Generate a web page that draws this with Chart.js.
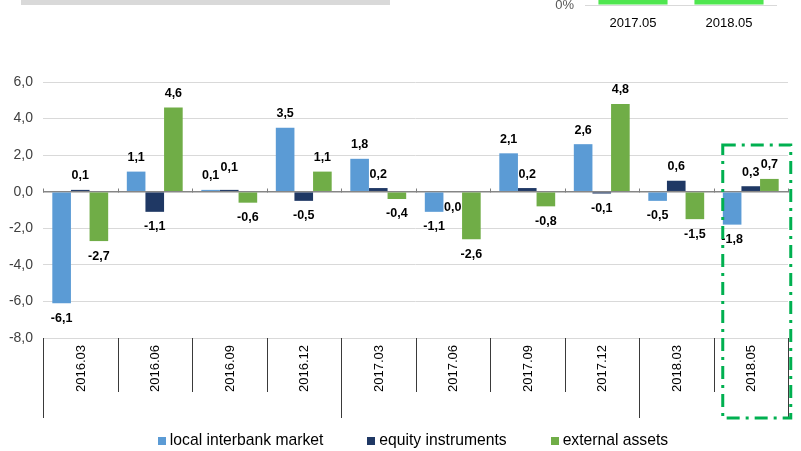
<!DOCTYPE html>
<html>
<head>
<meta charset="utf-8">
<script src="https://cdn.jsdelivr.net/npm/chart.js@4.4.0/dist/chart.umd.min.js"></script>
<style>
body { margin: 0; background: #fff; }
#wrap { position: relative; width: 801px; height: 451px; overflow: hidden; }
#mainCanvas { position: absolute; left: 0; top: 0; }
#titleBand { position: absolute; left: 21px; top: 0; width: 369px; height: 5px; background: #D9D9D9; }
#miniBox { position: absolute; left: 500px; top: 0; width: 301px; height: 40px; overflow: hidden; }
#miniCanvas { position: absolute; left: 0; top: -160px; }
</style>
</head>
<body>
<div id="wrap">
    <canvas id="mainCanvas" width="801" height="451"></canvas>
    <div id="titleBand"></div>
    <div id="miniBox"><canvas id="miniCanvas" width="301" height="200"></canvas></div>
</div>
<script>
// main chart data
var categories = ['2016.03', '2016.06', '2016.09', '2016.12', '2017.03', '2017.06', '2017.09', '2017.12', '2018.03', '2018.05'];
var localInterbank = [-6.1, 1.1, 0.1, 3.5, 1.8, -1.1, 2.1, 2.6, -0.5, -1.8];
var equityInstruments = [0.1, -1.1, 0.1, -0.5, 0.2, -0.04, 0.2, -0.1, 0.6, 0.3];
var externalAssets = [-2.7, 4.6, -0.6, 1.1, -0.4, -2.6, -0.8, 4.8, -1.5, 0.7];
var seriesNames = ['local interbank market', 'equity instruments', 'external assets'];
var seriesColors = ['#5B9BD5', '#1F3864', '#70AD47'];
var yMin = -8, yMax = 6, yStep = 2;

// small chart peeking in at the top right (its upper part is cut off)
var miniLabels = ['2017.05', '2018.05'];
var miniValues = [6.4, 7.1];

var groupBreaks = [0, 4, 8, 10];   // category boundaries with the long separator lines
var highlightIndex = 9;

function fmt(v) {
    var s = (Math.round(v * 10) / 10).toFixed(1);
    if (s === '-0.0') s = '0.0';
    return s.replace('.', ',');
}

var barLabels = {
    id: 'barLabels',
    afterDatasetsDraw: function(chart) {
        var ctx = chart.ctx;
        var placed = [];
        ctx.save();
        ctx.font = 'bold 12.5px Arial';
        ctx.fillStyle = '#000';
        ctx.textAlign = 'center';
        ctx.textBaseline = 'middle';
        chart.data.datasets.forEach(function(ds, i) {
            chart.getDatasetMeta(i).data.forEach(function(bar, j) {
                var v = ds.data[j];
                var y = v >= 0 ? bar.y - 14 : bar.y + 15;
                // lift a label that would sit right next to another one at the same height
                placed.forEach(function(p) {
                    if (v >= 0 && Math.abs(p.x - bar.x) < 22 && Math.abs(p.y - y) < 4) y -= 8;
                });
                placed.push({ x: bar.x, y: y });
                ctx.fillText(fmt(v), bar.x, y);
            });
        });
        ctx.restore();
    }
};

var catTable = {
    id: 'catTable',
    afterDraw: function(chart) {
        var ctx = chart.ctx, xs = chart.scales.x, ys = chart.scales.y, area = chart.chartArea;
        var n = chart.data.labels.length;
        var w = (area.right - area.left) / n;
        var y0 = Math.round(ys.getPixelForValue(0)) + 0.5;
        ctx.save();
        ctx.lineWidth = 1;
        for (var i = 0; i <= n; i++) {
            var px = Math.round(area.left + i * w) + 0.5;
            var isLong = groupBreaks.indexOf(i) >= 0;
            ctx.strokeStyle = '#3a3a3a';
            ctx.beginPath();
            ctx.moveTo(px, area.bottom);
            ctx.lineTo(px, area.bottom + (isLong ? 80 : 54));
            ctx.stroke();
            ctx.strokeStyle = '#808080';
            ctx.beginPath();
            ctx.moveTo(px, y0 - 4);
            ctx.lineTo(px, y0);
            ctx.stroke();
        }
        ctx.font = '13px Arial';
        ctx.fillStyle = '#000';
        ctx.textAlign = 'right';
        ctx.textBaseline = 'middle';
        chart.data.labels.forEach(function(l, i) {
            ctx.save();
            ctx.translate(xs.getPixelForValue(i) + 1, area.bottom + 7);
            ctx.rotate(-Math.PI / 2);
            ctx.fillText(l, 0, 0);
            ctx.restore();
        });

        // dash-dot frame around the latest period
        var cx = xs.getPixelForValue(highlightIndex);
        var top = ys.getPixelForValue(2.55);
        ctx.strokeStyle = '#00B050';
        ctx.lineWidth = 3;
        ctx.setLineDash([13, 6, 3, 6]);
        ctx.strokeRect(cx - 28, top, 68, area.bottom + 80 - top);
        ctx.setLineDash([]);

        // legend
        ctx.font = '15.7px Arial';
        ctx.textAlign = 'left';
        var widths = seriesNames.map(function(s) { return 12 + ctx.measureText(s).width; });
        var total = widths.reduce(function(a, b) { return a + b; }, 0) + 44 * (widths.length - 1);
        var lx = (area.left + area.right) / 2 - 2.5 - total / 2;
        var ly = 441;
        seriesNames.forEach(function(s, i) {
            ctx.fillStyle = seriesColors[i];
            ctx.fillRect(Math.round(lx), ly - 4, 8, 8);
            ctx.fillStyle = '#000';
            ctx.fillText(s, lx + 12, ly);
            lx += widths[i] + 44;
        });
        ctx.restore();
    }
};

var mainCTX = document.getElementById('mainCanvas').getContext('2d');
var mainChart = new Chart(mainCTX, {
    type: 'bar',
    data: {
        labels: categories,
        datasets: [localInterbank, equityInstruments, externalAssets].map(function(d, i) {
            return {
                label: seriesNames[i],
                data: d,
                backgroundColor: seriesColors[i],
                borderWidth: 0,
                barPercentage: 1.0,
                categoryPercentage: 0.75
            };
        })
    },
    options: {
        responsive: false,
        animation: false,
        devicePixelRatio: 1,
        plugins: {
            legend: { display: false },
            tooltip: { enabled: false }
        },
        layout: {
            padding: { left: 0, right: 13, top: 82, bottom: 0 }
        },
        scales: {
            x: {
                grid: { display: false, drawTicks: false },
                border: { display: false },
                ticks: { display: false },
                afterFit: function(scale) { scale.height = 113; }
            },
            y: {
                min: yMin,
                max: yMax,
                ticks: {
                    stepSize: yStep,
                    color: '#404040',
                    padding: 10,
                    font: { size: 14, family: 'Arial' },
                    callback: function(v) { return fmt(v); }
                },
                grid: {
                    drawTicks: false,
                    color: function(c) { return c.tick && c.tick.value === 0 ? '#868686' : '#D9D9D9'; },
                    lineWidth: function(c) { return c.tick && c.tick.value === 0 ? 1.5 : 1; }
                },
                border: { display: false },
                afterFit: function(scale) { scale.width = 43; }
            }
        }
    },
    plugins: [barLabels, catTable]
});

var miniCTX = document.getElementById('miniCanvas').getContext('2d');
var miniChart = new Chart(miniCTX, {
    type: 'bar',
    data: {
        labels: miniLabels,
        datasets: [{
            data: miniValues,
            backgroundColor: '#4FE64F',
            borderWidth: 0,
            barPercentage: 0.72,
            categoryPercentage: 1.0
        }]
    },
    options: {
        responsive: false,
        animation: false,
        devicePixelRatio: 1,
        plugins: {
            legend: { display: false },
            tooltip: { enabled: false }
        },
        layout: {
            padding: { left: 0, right: 24, top: 0, bottom: 0 }
        },
        scales: {
            x: {
                grid: { display: false, drawTicks: false },
                border: { display: false },
                ticks: { color: '#000', padding: 11, font: { size: 13, family: 'Arial' } },
                afterFit: function(scale) { scale.height = 35; }
            },
            y: {
                min: 0,
                max: 10,
                ticks: {
                    stepSize: 5,
                    color: '#595959',
                    padding: 11,
                    font: { size: 13, family: 'Arial' },
                    callback: function(v) { return v + '%'; }
                },
                grid: { color: '#D9D9D9', drawTicks: false },
                border: { display: false },
                afterFit: function(scale) { scale.width = 85; }
            }
        }
    }
});
</script>
</body>
</html>
